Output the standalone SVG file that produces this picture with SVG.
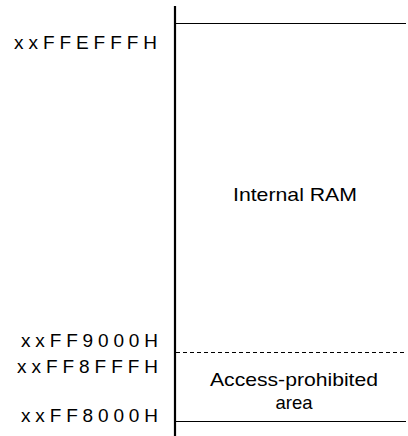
<svg xmlns="http://www.w3.org/2000/svg" width="408" height="436" viewBox="0 0 408 436">
<style>
.addr{font-family:"Liberation Sans",Arial,sans-serif;font-size:19px;fill:#000}
.lbl{font-family:"Liberation Sans",Arial,sans-serif;font-size:18.5px;fill:#000;text-anchor:middle}
.ln{stroke:#000;fill:none}
</style>
<rect width="408" height="436" fill="#fff"/>
<g id="connectors">
<line class="ln" x1="175" y1="6" x2="175" y2="436" stroke-width="2.2"/>
<line class="ln" x1="176" y1="23.5" x2="406" y2="23.5" stroke-width="1.2"/>
<line class="ln" x1="176" y1="352.5" x2="406" y2="352.5" stroke-width="1" stroke-dasharray="4,3"/>
<line class="ln" x1="176" y1="421.5" x2="406" y2="421.5" stroke-width="1.2"/>
</g>
<g id="addr-top"><text class="addr" x="14" y="49" textLength="143" lengthAdjust="spacing">xxFFEFFFH</text></g>
<g id="addr-9000"><text class="addr" x="21" y="346.5" textLength="137" lengthAdjust="spacing">xxFF9000H</text></g>
<g id="addr-8FFF"><text class="addr" x="17" y="373" textLength="141" lengthAdjust="spacing">xxFF8FFFH</text></g>
<g id="addr-8000"><text class="addr" x="21" y="421.5" textLength="137" lengthAdjust="spacing">xxFF8000H</text></g>
<g id="internal-ram"><text class="lbl" x="295" y="201" textLength="124" lengthAdjust="spacingAndGlyphs">Internal RAM</text></g>
<g id="access-prohibited">
<text class="lbl" x="294" y="385.5" textLength="168" lengthAdjust="spacingAndGlyphs">Access-prohibited</text>
<text class="lbl" x="294" y="408.5">area</text>
</g>
</svg>
